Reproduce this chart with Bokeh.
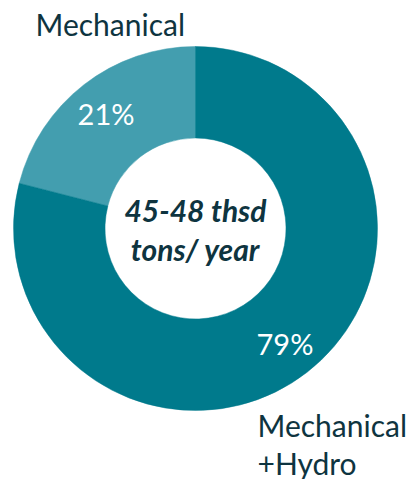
import math
from bokeh.plotting import figure
from bokeh.models import Range1d
from bokeh.core.properties import value
from bokeh.embed import file_html
from bokeh.resources import INLINE

categories = ["Mechanical", "Mechanical\n+Hydro"]
shares = [21, 79]
pct_labels = ["21%", "79%"]
center_lines = ["45-48 thsd", "tons/ year"]
colors = ["#439eaf", "#007a8c"]

W, H = 411, 479
p = figure(width=W, height=H, output_backend="svg", toolbar_location=None,
           x_range=Range1d(0, W), y_range=Range1d(0, H), min_border=0)
p.axis.visible = False
p.grid.visible = False
p.outline_line_color = None
p.background_fill_color = "white"
p.border_fill_color = "white"

cx, cy = 195, H - 228
r_out, r_in = 182, 90.5
total = sum(shares)
start = math.pi / 2
font = value("Lato")
for i, s in enumerate(shares):
    end = start + s / total * 2 * math.pi
    p.annular_wedge(x=[cx], y=[cy], inner_radius=r_in, outer_radius=r_out,
                    start_angle=[start], end_angle=[end], direction="anticlock",
                    fill_color=colors[i], line_color=colors[i], line_width=0.5)
    mid = (start + end) / 2
    lr = 146
    p.text(x=[cx + lr * math.cos(mid)], y=[cy + lr * math.sin(mid)], text=[pct_labels[i]],
           text_color="white", text_font=font, text_font_size="29px",
           text_align="center", text_baseline="middle")
    start = end

# category labels
p.text(x=[35], y=[H - 23], text=[categories[0]], text_color="#0e3440", text_font=font,
       text_font_size="30px", text_align="left", text_baseline="middle")
lines = categories[1].split("\n")
p.text(x=[257] * len(lines), y=[H - 424 - 38 * k for k in range(len(lines))], text=lines,
       text_color="#0e3440", text_font=font, text_font_size="30px",
       text_align="left", text_baseline="middle")

# center text
p.text(x=[cx, cx], y=[H - 209, H - 248], text=center_lines, text_color="#0e3440",
       text_font=font, text_font_size="30px", text_font_style="bold italic",
       text_align="center", text_baseline="middle")

open("out.html", "w").write(file_html(p, INLINE))
